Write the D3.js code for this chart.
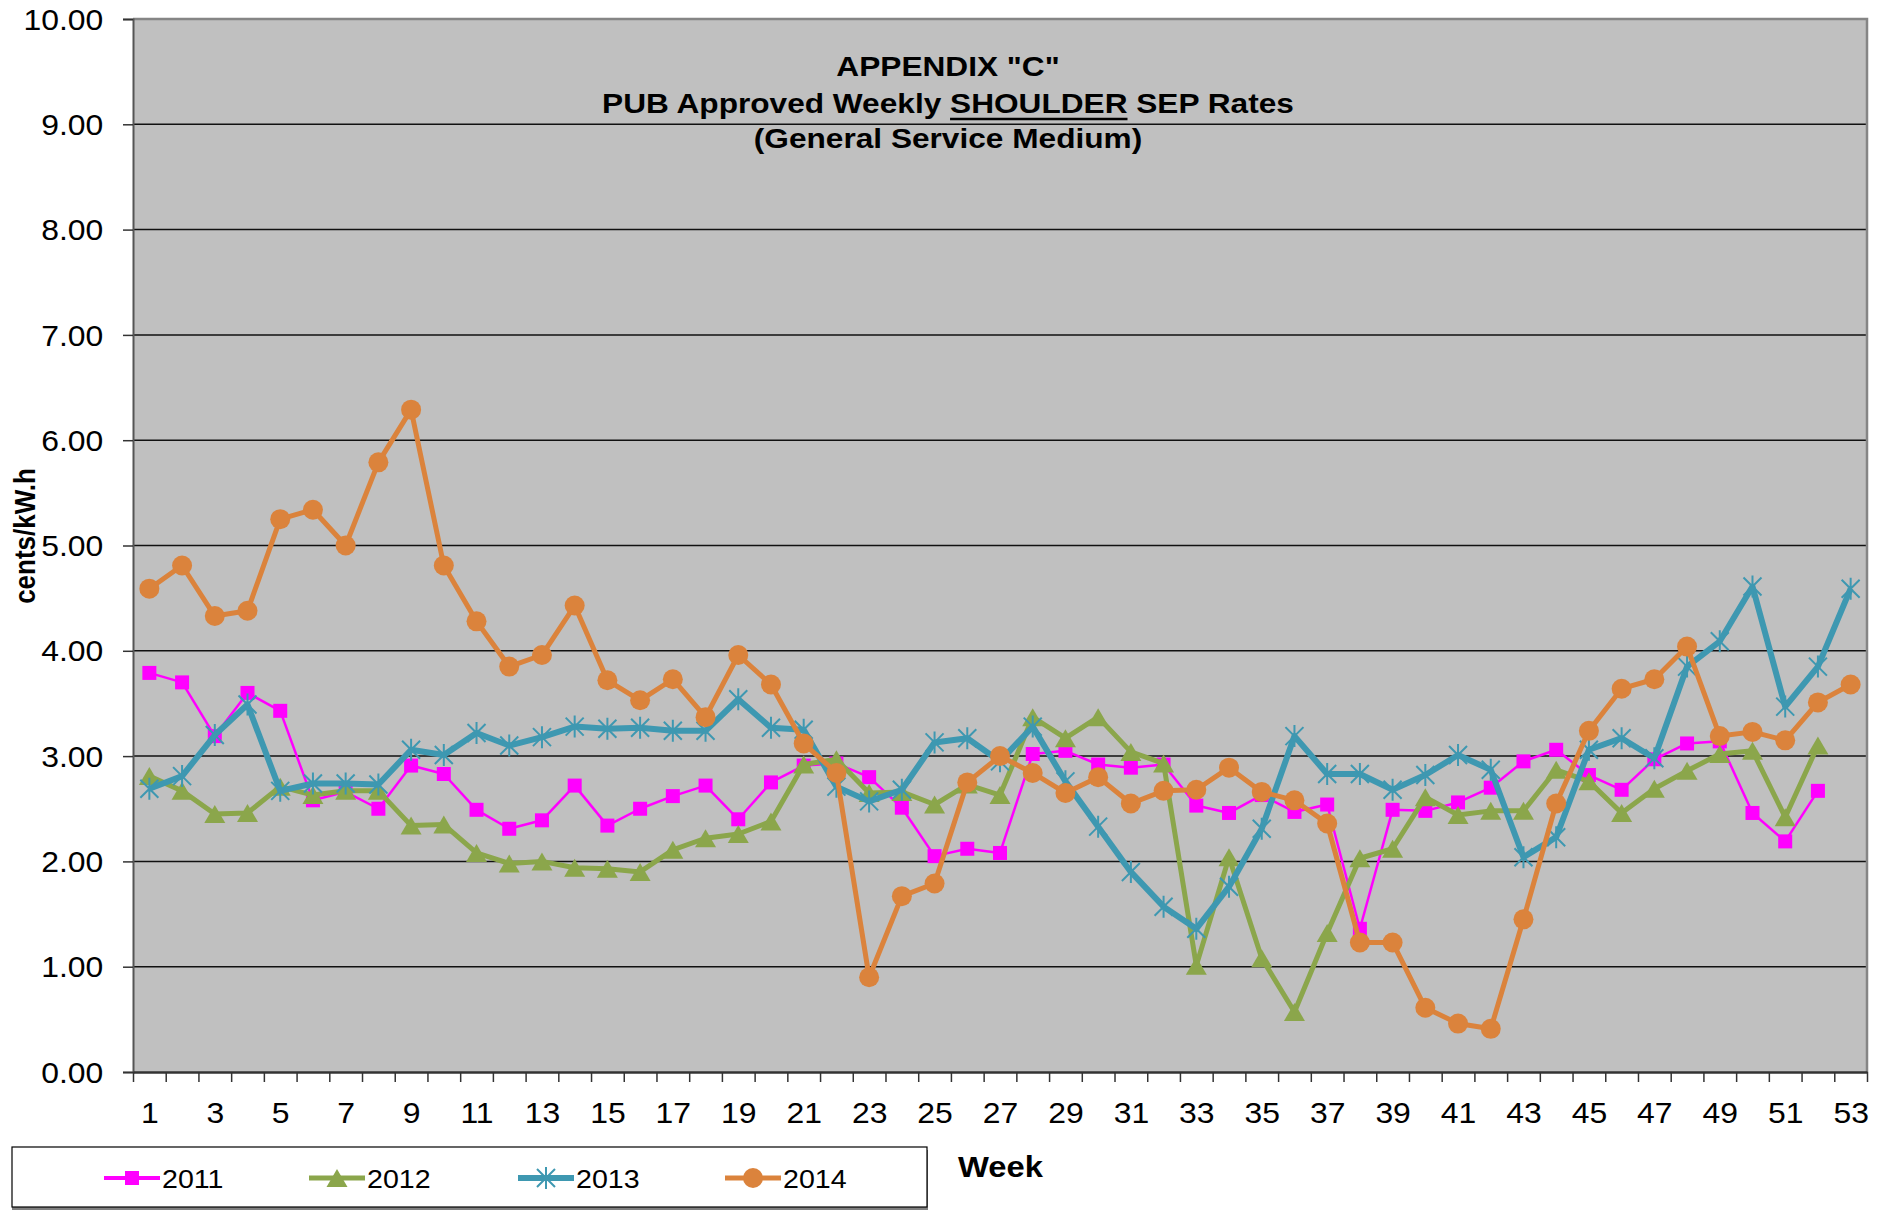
<!DOCTYPE html>
<html><head><meta charset="utf-8">
<script src="https://cdn.jsdelivr.net/npm/d3@7"></script>
<style>
body{margin:0;background:#fff}
svg{display:block}
text{font-family:"Liberation Sans",Arial,sans-serif;fill:#000}
</style>
</head><body>
<svg id="c" width="1887" height="1210"></svg>
<script>
// ---------- DATA ----------
const weeks = d3.range(1, 54);
const xTickLabels = [1,3,5,7,9,11,13,15,17,19,21,23,25,27,29,31,33,35,37,39,41,43,45,47,49,51,53];
const yTickValues = [0,1,2,3,4,5,6,7,8,9,10];
const seriesNames = ["2011","2012","2013","2014"];

const s2011 = [3.79,3.70,3.19,3.60,3.43,2.58,2.66,2.50,2.91,2.83,
               2.49,2.31,2.39,2.72,2.34,2.50,2.62,2.72,2.40,2.75,
               2.91,2.93,2.80,2.51,2.05,2.12,2.08,3.02,3.05,2.92,
               2.89,2.92,2.53,2.46,2.63,2.47,2.54,1.36,2.49,2.48,
               2.56,2.70,2.95,3.06,2.82,2.68,2.97,3.12,3.14,2.46,
               2.19,2.67];
const s2012 = [2.81,2.67,2.45,2.46,2.71,2.63,2.67,2.67,2.34,2.35,
               2.08,1.98,2.00,1.94,1.93,1.90,2.11,2.22,2.26,2.38,
               2.92,2.97,2.65,2.66,2.54,2.73,2.63,3.37,3.17,3.37,
               3.04,2.93,1.01,2.04,1.08,0.57,1.32,2.03,2.12,2.61,
               2.44,2.48,2.48,2.87,2.76,2.46,2.69,2.86,3.02,3.05,
               2.42,3.10];
const s2013 = [2.69,2.81,3.20,3.49,2.67,2.74,2.74,2.73,3.06,3.01,
               3.22,3.10,3.18,3.28,3.26,3.27,3.24,3.24,3.54,3.27,
               3.25,2.71,2.57,2.68,3.13,3.17,2.95,3.28,2.76,2.33,
               1.90,1.57,1.36,1.76,2.31,3.19,2.83,2.83,2.68,2.82,
               3.01,2.87,2.04,2.23,3.06,3.17,2.98,3.85,4.09,4.61,
               3.47,3.85,4.59];
const s2014 = [4.59,4.81,4.33,4.38,5.25,5.34,5.00,5.79,6.29,4.81,
               4.28,3.85,3.96,4.43,3.72,3.53,3.73,3.37,3.96,3.68,
               3.12,2.84,0.90,1.67,1.79,2.75,3.00,2.84,2.65,2.80,
               2.55,2.67,2.68,2.89,2.66,2.58,2.36,1.23,1.23,0.61,
               0.46,0.41,1.45,2.55,3.24,3.64,3.73,4.04,3.19,3.23,
               3.15,3.51,3.68];

// ---------- LAYOUT ----------
const svg = d3.select("#c");
const L = 133, R = 1867, T = 19, B = 1072;
const SX = 1.1;
const x = d3.scaleLinear().domain([0.5, 53.5]).range([L, R]);
const y = d3.scaleLinear().domain([0, 10]).range([B, T]);

// plot background
svg.append("rect").attr("x", L).attr("y", T).attr("width", R - L).attr("height", B - T)
  .attr("fill", "#c0c0c0");

// gridlines
svg.append("g").selectAll("line").data(yTickValues.filter(v => v > 0 && v < 10)).join("line")
  .attr("x1", L).attr("x2", R).attr("y1", d => y(d)).attr("y2", d => y(d))
  .attr("stroke", "#111").attr("stroke-width", 1.5);

// border top/right
svg.append("path").attr("d", `M${L},${T}H${R}V${B}`).attr("fill", "none")
  .attr("stroke", "#858585").attr("stroke-width", 2.5);

// y axis
const yAxis = svg.append("g").attr("transform", `translate(${L},0)`)
  .call(d3.axisLeft(y).tickValues(yTickValues).tickFormat(d3.format(".2f")).tickSize(10).tickPadding(17));
yAxis.select(".domain").attr("stroke", "#555").attr("stroke-width", 2);
yAxis.selectAll(".tick line").attr("stroke", "#333").attr("stroke-width", 1.5);
yAxis.selectAll(".tick text").attr("font-size", 29).attr("font-family", '"Liberation Sans",Arial,sans-serif')
  .attr("transform", `scale(${SX},1)`).attr("dy", "0.35em");

// x axis: boundary ticks
const bounds = weeks.map(w => w - 0.5).concat([53.5]);
const xAxisTicks = svg.append("g").attr("transform", `translate(0,${B})`)
  .call(d3.axisBottom(x).tickValues(bounds).tickFormat("").tickSize(10).tickSizeOuter(0));
xAxisTicks.select(".domain").attr("stroke", "#333").attr("stroke-width", 2.5);
xAxisTicks.selectAll(".tick line").attr("stroke", "#333").attr("stroke-width", 1.5);

// x axis labels
const xAxisLab = svg.append("g").attr("transform", `translate(0,${B})`)
  .call(d3.axisBottom(x).tickValues(xTickLabels).tickSize(0).tickPadding(30).tickFormat(d3.format("d")));
xAxisLab.select(".domain").remove();
xAxisLab.selectAll(".tick text").attr("font-size", 29).attr("font-family", '"Liberation Sans",Arial,sans-serif')
  .attr("transform", `scale(${SX},1)`);

// ---------- SERIES ----------
const styles = {
  "2011": {color: "#ff00ff", width: 2.5, marker: "square"},
  "2012": {color: "#8ba64b", width: 5, marker: "triangle"},
  "2013": {color: "#3e98b1", width: 6, marker: "star"},
  "2014": {color: "#db833c", width: 5, marker: "circle"}
};
const seriesData = {"2011": s2011, "2012": s2012, "2013": s2013, "2014": s2014};

function drawMarker(g, type, color) {
  if (type === "square") {
    g.append("rect").attr("x", -7).attr("y", -7).attr("width", 14).attr("height", 14).attr("fill", color);
  } else if (type === "triangle") {
    g.append("path").attr("d", "M0,-9L10.5,9L-10.5,9Z").attr("fill", color);
  } else if (type === "star") {
    g.append("path").attr("d", "M-9,-9L9,9M-9,9L9,-9M0,-11L0,11").attr("stroke", color)
      .attr("stroke-width", 2).attr("fill", "none");
  } else if (type === "circle") {
    g.append("circle").attr("r", 10).attr("fill", color);
  }
}

const line = d3.line().x(d => x(d.w)).y(d => y(d.v));
seriesNames.forEach(name => {
  const st = styles[name];
  const data = seriesData[name].map((v, i) => ({w: weeks[i], v}));
  const g = svg.append("g");
  g.append("path").datum(data).attr("d", line).attr("fill", "none")
    .attr("stroke", st.color).attr("stroke-width", st.width).attr("stroke-linejoin", "round");
  g.selectAll("g.m").data(data).join("g").attr("class", "m")
    .attr("transform", d => `translate(${x(d.w)},${y(d.v)})`)
    .each(function() { drawMarker(d3.select(this), st.marker, st.color); });
});

// ---------- TITLE ----------
function stretchedText(xp, yp, str, size, weight, anchor) {
  const g = svg.append("g").attr("transform", `translate(${xp},${yp}) scale(1.13,1)`);
  const t = g.append("text").attr("text-anchor", anchor || "middle").attr("font-size", size)
    .attr("font-weight", weight || "normal").text(str);
  return {g, t};
}
stretchedText(948, 76, 'APPENDIX "C"', 28, "bold");
const l2 = stretchedText(948, 113, "PUB Approved Weekly SHOULDER SEP Rates", 28, "bold");
const ext = l2.t.node().getExtentOfChar(20);
const ext2 = l2.t.node().getExtentOfChar(27);
l2.g.append("line").attr("x1", ext.x).attr("x2", ext2.x + ext2.width)
  .attr("y1", 6).attr("y2", 6).attr("stroke", "#000").attr("stroke-width", 2.5);
stretchedText(948, 148, "(General Service Medium)", 28, "bold");

// y axis title
svg.append("text").attr("transform", `translate(35,536) scale(1.15,1) rotate(-90)`)
  .attr("text-anchor", "middle").attr("font-size", 26).attr("font-weight", "bold").text("cents/kW.h");

// x axis title
stretchedText(958, 1177, "Week", 29, "bold", "start");

// ---------- LEGEND ----------
svg.append("rect").attr("x", 12).attr("y", 1150).attr("width", 916).attr("height", 60).attr("fill", "#808080");
svg.append("rect").attr("x", 12).attr("y", 1147).attr("width", 915).attr("height", 60)
  .attr("fill", "#fff").attr("stroke", "#000").attr("stroke-width", 1.2);
const legendX = [104, 309, 518, 725];
seriesNames.forEach((name, i) => {
  const st = styles[name];
  const x0 = legendX[i], yy = 1178;
  svg.append("line").attr("x1", x0).attr("x2", x0 + 56).attr("y1", yy).attr("y2", yy)
    .attr("stroke", st.color).attr("stroke-width", Math.max(st.width, 4));
  drawMarker(svg.append("g").attr("transform", `translate(${x0 + 28},${yy})`), st.marker, st.color);
  const g = svg.append("g").attr("transform", `translate(${x0 + 58},1188) scale(1.1,1)`);
  g.append("text").attr("font-size", 26).text(name);
});
</script>
</body></html>
